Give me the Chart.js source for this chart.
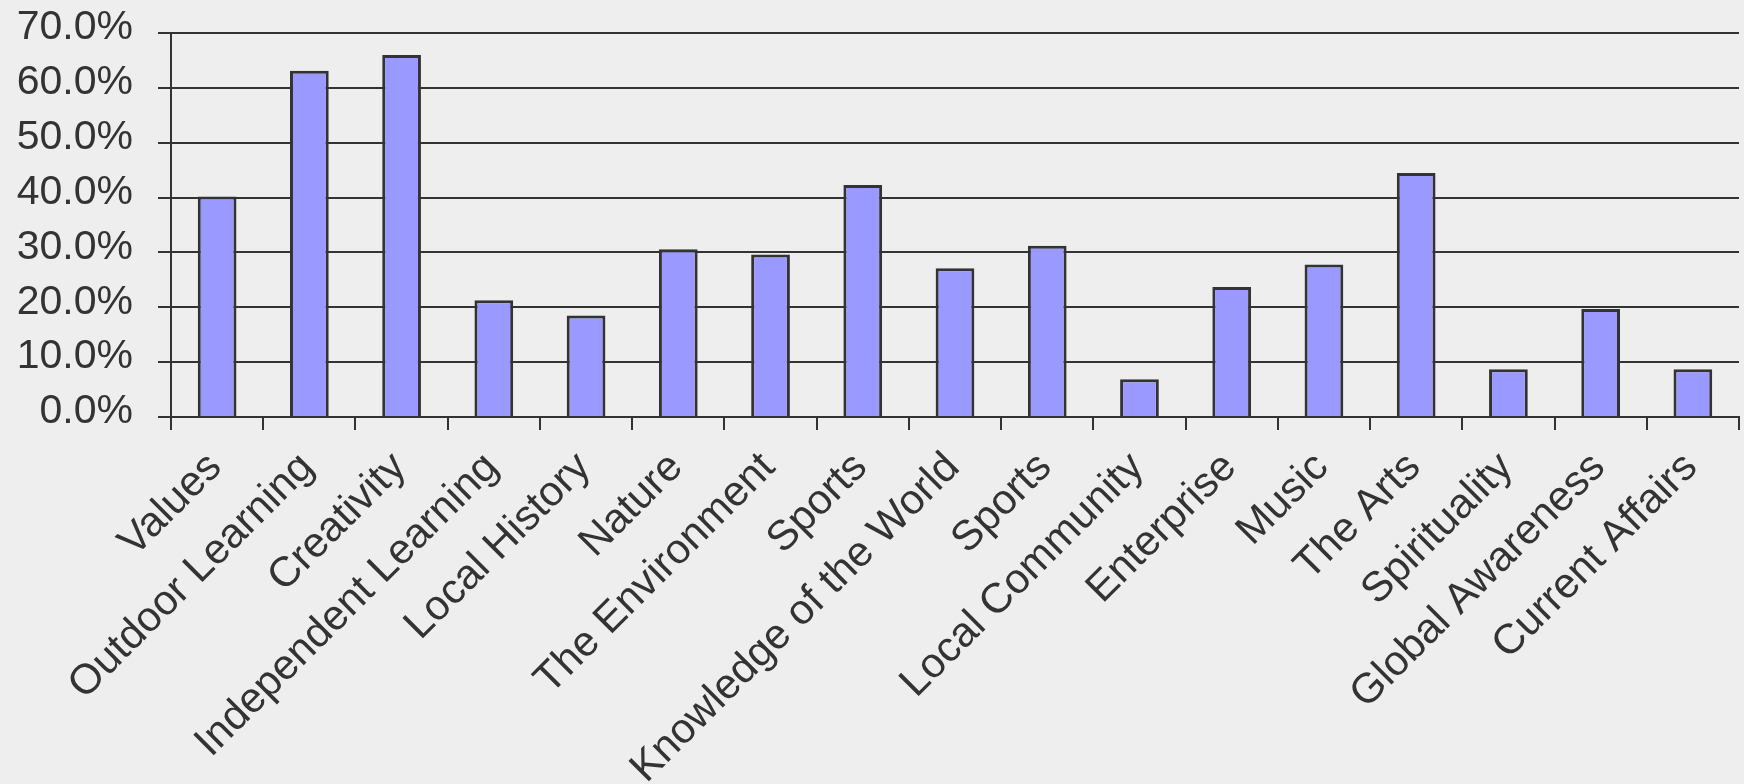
<!DOCTYPE html>
<html>
<head>
<meta charset="utf-8">
<script src="https://cdn.jsdelivr.net/npm/chart.js@4/dist/chart.umd.min.js"></script>
<style>
  html, body { margin: 0; padding: 0; background: #eeeeee; }
  #wrap { width: 1744px; height: 784px; position: relative; }
</style>
</head>
<body>
<div id="wrap"><canvas id="chart"></canvas></div>
<script>
const categories = [
  'Values', 'Outdoor Learning', 'Creativity', 'Independent Learning', 'Local History',
  'Nature', 'The Environment', 'Sports', 'Knowledge of the World', 'Sports',
  'Local Community', 'Enterprise', 'Music', 'The Arts', 'Spirituality',
  'Global Awareness', 'Current Affairs'
];
const percentages = [
  40.2, 63.1, 66.0, 21.3, 18.5,
  30.6, 29.6, 42.3, 27.1, 31.2,
  6.9, 23.7, 27.8, 44.5, 8.7,
  19.7, 8.7
];
const yTicks = [0, 10, 20, 30, 40, 50, 60, 70];

const ink = '#333333';
const fontFamily = '"Liberation Sans", Arial, sans-serif';

new Chart(document.getElementById('chart'), {
  type: 'bar',
  data: {
    labels: categories,
    datasets: [{
      data: percentages,
      backgroundColor: '#9999ff',
      borderColor: ink,
      borderWidth: 3,
      borderSkipped: 'bottom',
      barPercentage: 0.42,
      categoryPercentage: 1.0,
    }],
  },
  options: {
    responsive: true,
    maintainAspectRatio: false,
    animation: false,
    layout: { padding: { top: 33, right: 5, left: 0, bottom: 0 } },
    plugins: {
      legend: { display: false },
      tooltip: { enabled: false },
    },
    scales: {
      x: {
        offset: true,
        grid: {
          offset: true,
          drawOnChartArea: false,
          drawTicks: true,
          tickLength: 13,
          color: ink,
          lineWidth: 2,
        },
        border: { display: true, color: ink, width: 2 },
        ticks: {
          autoSkip: false,
          maxRotation: 45,
          minRotation: 45,
          color: ink,
          font: { family: fontFamily, size: 42 },
          padding: 13,
          labelOffset: -2,
        },
        afterFit(scale) { scale.height = 367; },
      },
      y: {
        min: yTicks[0],
        max: yTicks[yTicks.length - 1],
        afterBuildTicks(scale) { scale.ticks = yTicks.map((v) => ({ value: v })); },
        grid: {
          drawTicks: true,
          tickLength: 13,
          color: ink,
          lineWidth: 2,
        },
        border: { display: true, color: ink, width: 2 },
        ticks: {
          color: ink,
          font: { family: fontFamily, size: 41 },
          padding: 25,
          labelOffset: -5,
          callback: (v) => v.toFixed(1) + '%',
        },
        afterFit(scale) {
          // keep the plot top fixed; the label padding should not push it down
          scale.width = 171;
          scale.paddingTop = 0;
          scale.paddingBottom = 0;
        },
      },
    },
  },
});
</script>
</body>
</html>
